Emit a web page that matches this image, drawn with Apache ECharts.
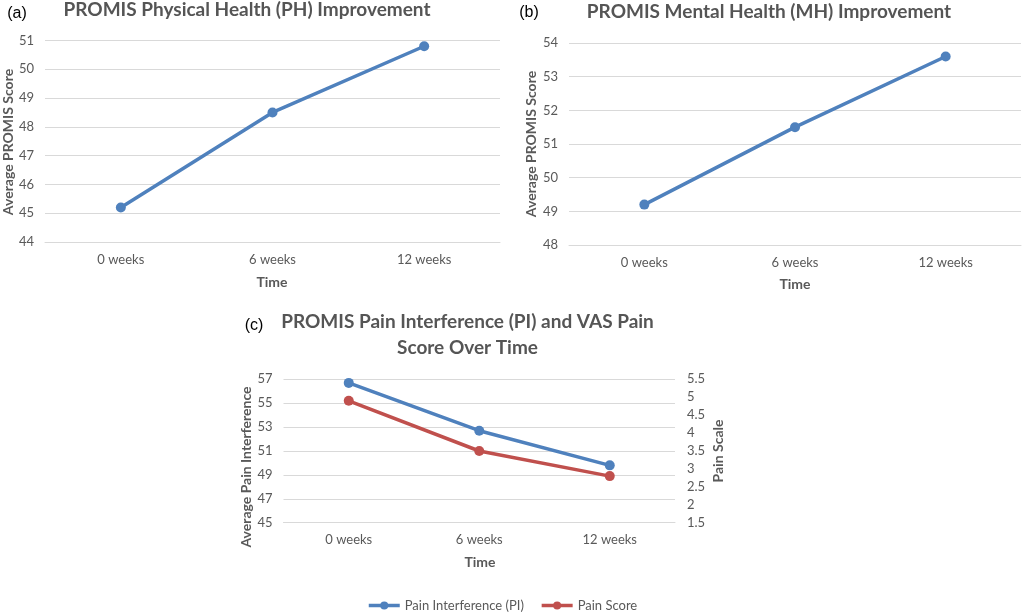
<!DOCTYPE html>
<html>
<head>
<meta charset="utf-8">
<script src="https://cdn.jsdelivr.net/npm/echarts@6/dist/echarts.min.js"></script>
<style>
html,body{margin:0;padding:0;background:#fff;}
#chart{width:1026px;height:612px;}
</style>
</head>
<body>
<div id="chart"></div>
<script>
const categories = ['0 weeks', '6 weeks', '12 weeks'];
const phScores = [45.2, 48.5, 50.8];
const mhScores = [49.2, 51.5, 53.6];
const piScores = [56.7, 52.7, 49.8];
const painScores = [4.9, 3.5, 2.8];

const FONT = 'Lato, "Open Sans", sans-serif';
const GRAY = '#595959';
const GRID = '#d9d9d9';
const BLUE = '#4f81bd';
const RED = '#c0504d';

function xAx(gridIndex) {
  return {
    type: 'category', gridIndex, data: categories, boundaryGap: true,
    axisLine: {lineStyle: {color: GRID, width: 1}},
    axisTick: {show: false},
    axisLabel: {color: GRAY, fontSize: 13, fontFamily: FONT, margin: 11}
  };
}
function yAx(gridIndex, min, max, interval, pos, showSplit) {
  return {
    type: 'value', gridIndex, min, max, interval, position: pos || 'left',
    axisLine: {show: false}, axisTick: {show: false},
    splitLine: {show: showSplit !== false, lineStyle: {color: GRID, width: 1}},
    axisLabel: {color: GRAY, fontSize: 13, fontFamily: FONT, margin: pos === 'right' ? 12 : 11}
  };
}
function lineSeries(name, data, color, xi, yi) {
  return {
    name, type: 'line', data, xAxisIndex: xi, yAxisIndex: yi,
    symbol: 'circle', symbolSize: 10, showSymbol: true,
    lineStyle: {color, width: 3.5}, itemStyle: {color},
    emphasis: {disabled: true}, animation: false
  };
}
function txt(text, x, y, opts) {
  return Object.assign({
    type: 'text', x, y,
    style: Object.assign({
      text, fill: GRAY, font: 'bold 14px ' + FONT, align: 'center', verticalAlign: 'middle'
    }, (opts && opts.style) || {})
  }, opts && opts.rotation ? {rotation: opts.rotation} : {});
}

const chart = echarts.init(document.getElementById('chart'), null, {renderer: 'canvas'});
chart.setOption({
  backgroundColor: '#fff',
  animation: false,
  grid: [
    {left: 45, top: 40.5, width: 455, height: 201.5},
    {left: 569, top: 43, width: 452, height: 202},
    {left: 283.5, top: 379.3, width: 391.5, height: 143.4}
  ],
  xAxis: [xAx(0), xAx(1), xAx(2)],
  yAxis: [
    yAx(0, 44, 51, 1),
    yAx(1, 48, 54, 1),
    yAx(2, 45, 57, 2),
    yAx(2, 1.5, 5.5, 0.5, 'right', false)
  ],
  legend: {
    data: ['Pain Interference (PI)', 'Pain Score'],
    left: 362, top: 594, itemWidth: 31, itemHeight: 10, itemGap: 16,
    lineStyle: {width: 3.5},
    textStyle: {color: GRAY, fontSize: 13, fontFamily: FONT}
  },
  series: [
    lineSeries('PH', phScores, BLUE, 0, 0),
    lineSeries('MH', mhScores, BLUE, 1, 1),
    lineSeries('Pain Interference (PI)', piScores, BLUE, 2, 2),
    lineSeries('Pain Score', painScores, RED, 2, 3)
  ],
  graphic: [
    txt('PROMIS Physical Health (PH) Improvement', 247, 10, {style: {font: 'bold 19px ' + FONT, fill: '#555'}}),
    txt('PROMIS Mental Health (MH) Improvement', 769, 12, {style: {font: 'bold 19px ' + FONT, fill: '#555'}}),
    txt('PROMIS Pain Interference (PI) and VAS Pain', 467.5, 322, {style: {font: 'bold 19px ' + FONT, fill: '#555'}}),
    txt('Score Over Time', 467.5, 348, {style: {font: 'bold 19px ' + FONT, fill: '#555'}}),
    txt('(a)', 17, 14, {style: {fill: '#000', font: '16px "Liberation Sans", Arial, sans-serif'}}),
    txt('(b)', 529, 13, {style: {fill: '#000', font: '16px "Liberation Sans", Arial, sans-serif'}}),
    txt('(c)', 254, 326, {style: {fill: '#000', font: '16px "Liberation Sans", Arial, sans-serif'}}),
    txt('Average PROMIS Score', 8, 142, {rotation: Math.PI / 2}),
    txt('Average PROMIS Score', 531, 144, {rotation: Math.PI / 2}),
    txt('Average Pain Interference', 246, 467, {rotation: Math.PI / 2}),
    txt('Pain Scale', 718, 451, {rotation: Math.PI / 2}),
    txt('Time', 272, 282),
    txt('Time', 795, 284),
    txt('Time', 480, 562)
  ]
});
</script>
</body>
</html>
